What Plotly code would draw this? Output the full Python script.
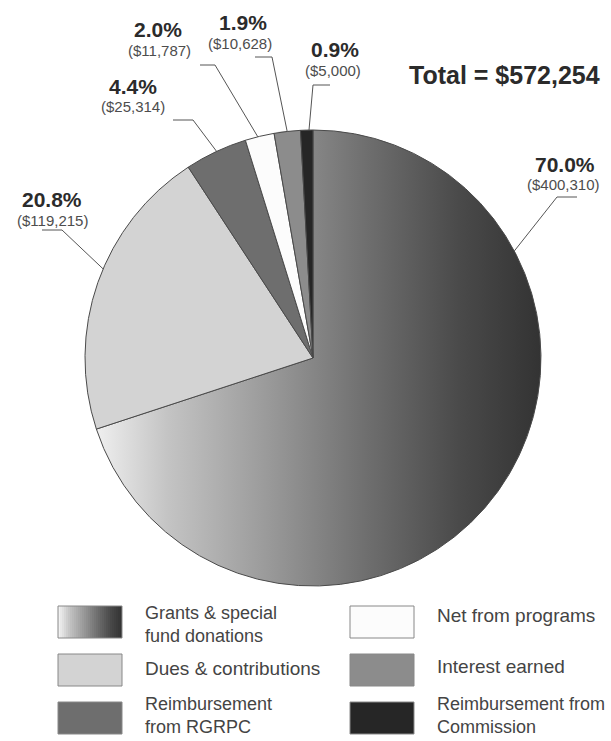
import numpy as np
import plotly.graph_objects as go

# ---------------- data ----------------
categories = ["Grants & special fund donations", "Dues & contributions",
              "Reimbursement from RGRPC", "Net from programs",
              "Interest earned", "Reimbursement from Commission"]
values = [400310, 119215, 25314, 11787, 10628, 5000]
pct_labels = ["70.0%", "20.8%", "4.4%", "2.0%", "1.9%", "0.9%"]
legend_lines = [["Grants & special", "fund donations"], ["Dues & contributions"],
                ["Reimbursement", "from RGRPC"], ["Net from programs"],
                ["Interest earned"], ["Reimbursement from", "Commission"]]
total_label = "Total = $572,254"

# ---------------- style / layout ----------------
W, H = 611, 741
CX, CY, R = 313.0, 358.0, 228.0
slice_colors = ["rgba(0,0,0,0)", "#d3d3d3", "#6e6e6e", "#fcfcfc", "#8c8c8c", "#262626"]
grad_scale = [[0.0, "#f6f6f6"], [0.18, "#c4c4c4"], [0.4, "#9a9a9a"],
              [0.62, "#6e6e6e"], [0.82, "#4a4a4a"], [1.0, "#333333"]]
legend_swatch = ["grad", "#d3d3d3", "#6e6e6e", "#fcfcfc", "#8c8c8c", "#262626"]
FONT = "Liberation Sans, Arial, sans-serif"

# label placement (pixel coords)
pct_pos = [(565, 164), (52, 199), (133, 86), (158, 29), (243, 22), (335, 49)]
amt_pos = [(563, 184), (52, 220), (133, 106), (159, 50), (240, 43), (333, 70)]
leader_h = [((577, 197), (557, 197)), ((42, 230), (62, 230)), ((173, 120), (193, 120)),
            ((200, 65), (215, 65)), ((255, 57), (272, 57)), ((330, 85), (313, 85))]
tip_deg = [62, 293, 335, 346, 353.5, 359]

# legend grid
col_x = [58, 350]
row_y = [606, 654, 702]
sw_w, sw_h = 64, 32
text_dx = 85
text_dy = [18, 14, 13, 9, 12, 13]

fig = go.Figure()

# gradient-filled first slice (computed from the data) under the pie
vals = np.array(values, dtype=float)
frac = vals / vals.sum()
end0 = frac[0] * 2 * np.pi
th = np.linspace(0, end0, 300)
px = np.concatenate([[CX], CX + R * np.sin(th), [CX]])
py = np.concatenate([[CY], CY - R * np.cos(th), [CY]])
fig.add_trace(go.Scatter(
    x=px, y=py, mode="lines", line=dict(width=0), fill="toself",
    fillgradient=dict(type="horizontal", colorscale=grad_scale, start=CX - R, stop=CX + R),
    hoverinfo="skip", showlegend=False))

fig.add_trace(go.Pie(
    labels=categories, values=values, sort=False, direction="clockwise", rotation=0,
    textinfo="none", hoverinfo="label+value+percent",
    marker=dict(colors=slice_colors, line=dict(color="#4a4a4a", width=1)),
    domain=dict(x=[(CX - R) / W, (CX + R) / W], y=[1 - (CY + R) / H, 1 - (CY - R) / H]),
    showlegend=False))

shapes = []
annotations = []
for i in range(len(values)):
    t = np.deg2rad(tip_deg[i])
    tx, ty = CX + R * np.sin(t), CY - R * np.cos(t)
    (x0, y0), (x1, y1) = leader_h[i]
    shapes.append(dict(type="path", xref="x", yref="y",
                       path=f"M {x0},{y0} L {x1},{y1} L {tx:.1f},{ty:.1f}",
                       line=dict(color="#555555", width=1)))
    annotations.append(dict(x=pct_pos[i][0], y=pct_pos[i][1], xref="x", yref="y",
                            text=f"<b>{pct_labels[i]}</b>", showarrow=False,
                            font=dict(family=FONT, size=21, color="#2b2b2b"),
                            xanchor="center", yanchor="middle"))
    annotations.append(dict(x=amt_pos[i][0], y=amt_pos[i][1], xref="x", yref="y",
                            text=f"(${values[i]:,})", showarrow=False,
                            font=dict(family=FONT, size=15, color="#4d4d4d"),
                            xanchor="center", yanchor="middle"))

annotations.append(dict(x=504, y=75, xref="x", yref="y", text=f"<b>{total_label}</b>",
                        showarrow=False, font=dict(family=FONT, size=25, color="#2b2b2b"),
                        xanchor="center", yanchor="middle"))

# legend (drawn manually for large swatches)
stops = [s[0] for s in grad_scale]
greys = [int(s[1][1:3], 16) for s in grad_scale]
for i, lines in enumerate(legend_lines):
    c, r = divmod(i, 3)
    x0, y0 = col_x[c], row_y[r]
    if legend_swatch[i] == "grad":
        n = 32
        for k in range(n):
            f = (k + 0.5) / n
            g = int(np.interp(f, stops, greys))
            shapes.append(dict(type="rect", xref="x", yref="y",
                               x0=x0 + sw_w * k / n, x1=min(x0 + sw_w * (k + 1) / n + 1.2, x0 + sw_w),
                               y0=y0, y1=y0 + sw_h, line=dict(width=0),
                               fillcolor=f"rgb({g},{g},{g})"))
        shapes.append(dict(type="rect", xref="x", yref="y", x0=x0, x1=x0 + sw_w,
                           y0=y0, y1=y0 + sw_h, line=dict(color="#888888", width=1)))
    else:
        shapes.append(dict(type="rect", xref="x", yref="y", x0=x0, x1=x0 + sw_w,
                           y0=y0, y1=y0 + sw_h, fillcolor=legend_swatch[i],
                           line=dict(color="#888888", width=1)))
    annotations.append(dict(x=x0 + text_dx, y=y0 + text_dy[i],
                            xref="x", yref="y", text="<br>".join(lines), showarrow=False,
                            font=dict(family=FONT, size=19 if len(lines) == 1 else 18,
                                      color="#444444"),
                            align="left", xanchor="left", yanchor="middle"))

fig.update_layout(
    width=W, height=H, autosize=False,
    margin=dict(l=0, r=0, t=0, b=0),
    paper_bgcolor="white", plot_bgcolor="rgba(0,0,0,0)",
    xaxis=dict(range=[0, W], visible=False, fixedrange=True),
    yaxis=dict(range=[H, 0], visible=False, fixedrange=True),
    shapes=shapes, annotations=annotations, showlegend=False,
)

fig.write_html("out.html")
